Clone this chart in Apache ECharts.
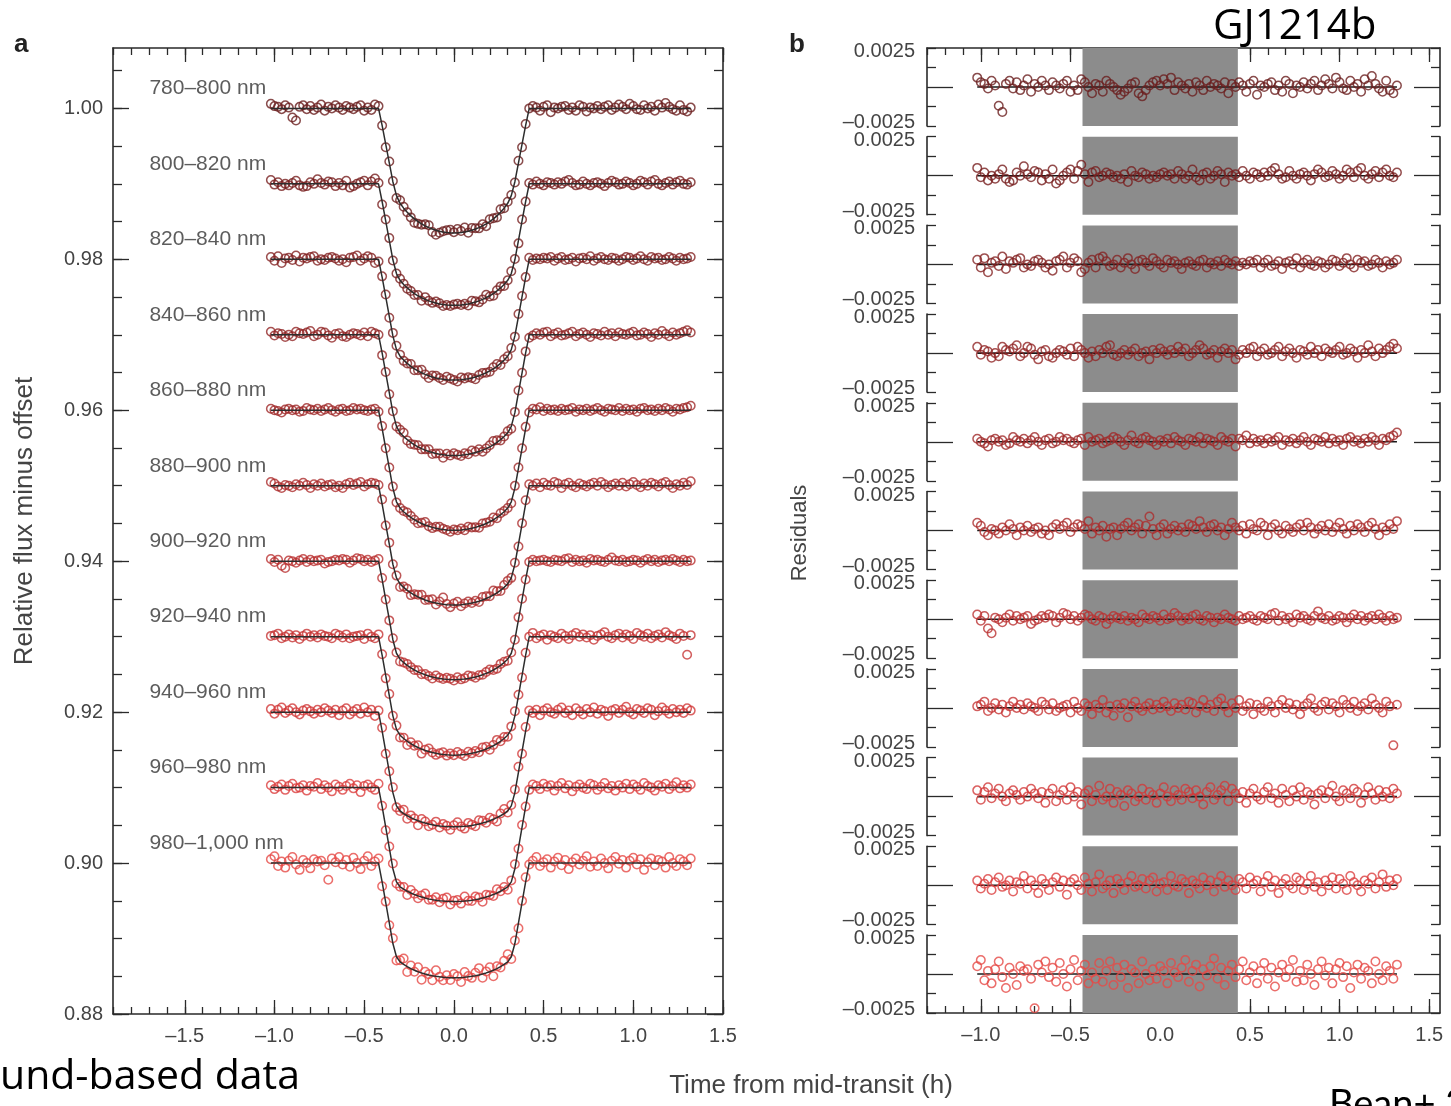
<!DOCTYPE html>
<html>
<head>
<meta charset="utf-8">
<title>GJ1214b ground-based light curves</title>
<script src="https://cdn.jsdelivr.net/npm/echarts@6/dist/echarts.min.js"></script>
<style>
  html, body { margin: 0; padding: 0; background: #fff; }
  #chart { width: 1451px; height: 1106px; }
</style>
</head>
<body>
<div id="chart"></div>
<script>
// spectroscopic channels, top to bottom
const bands = ['780–800 nm', '800–820 nm', '820–840 nm', '840–860 nm', '860–880 nm', '880–900 nm',
  '900–920 nm', '920–940 nm', '940–960 nm', '960–980 nm', '980–1,000 nm'];
const offsets = [1.00, 0.99, 0.98, 0.97, 0.96, 0.95, 0.94, 0.93, 0.92, 0.91, 0.90];
// depth at second contact and extra depth at mid-transit (limb darkening)
const edgeDepth = [0.0113, 0.0117, 0.0118, 0.0120, 0.0120, 0.0121, 0.0121, 0.0122, 0.0124, 0.0125, 0.0124];
const limbDepth = [0.0052, 0.0044, 0.0042, 0.0040, 0.0039, 0.0037, 0.0036, 0.0035, 0.0028, 0.0026, 0.0028];

// time from mid-transit (h)
const times = [
  -1.02, -1.00, -0.98, -0.96, -0.94, -0.92, -0.90, -0.88, -0.86, -0.84,
  -0.82, -0.80, -0.78, -0.76, -0.74, -0.72, -0.70, -0.68, -0.66, -0.64,
  -0.62, -0.60, -0.58, -0.56, -0.54, -0.52, -0.50, -0.48, -0.46, -0.44,
  -0.42, -0.40, -0.38, -0.36, -0.34, -0.32, -0.30, -0.28, -0.26, -0.24,
  -0.22, -0.20, -0.18, -0.16, -0.14, -0.12, -0.10, -0.08, -0.06, -0.04,
  -0.02, 0.00, 0.02, 0.04, 0.06, 0.08, 0.10, 0.12, 0.14, 0.16,
  0.18, 0.20, 0.22, 0.24, 0.26, 0.28, 0.30, 0.32, 0.34, 0.36,
  0.38, 0.40, 0.42, 0.44, 0.46, 0.48, 0.50, 0.52, 0.54, 0.56,
  0.58, 0.60, 0.62, 0.64, 0.66, 0.68, 0.70, 0.72, 0.74, 0.76,
  0.78, 0.80, 0.82, 0.84, 0.86, 0.88, 0.90, 0.92, 0.94, 0.96,
  0.98, 1.00, 1.02, 1.04, 1.06, 1.08, 1.10, 1.12, 1.14, 1.16,
  1.18, 1.20, 1.22, 1.24, 1.26, 1.28, 1.30, 1.32];
// transit shape: ingress/egress ramp and limb-darkened bottom
const boxShape = [
  0, 0, 0, 0, 0, 0, 0, 0, 0, 0,
  0, 0, 0, 0, 0, 0, 0, 0, 0, 0,
  0, 0, 0, 0, 0, 0, 0, 0, 0, 0,
  0, 0.20, 0.42, 0.64, 0.86, 0.98, 1, 1, 1, 1,
  1, 1, 1, 1, 1, 1, 1, 1, 1, 1,
  1, 1, 1, 1, 1, 1, 1, 1, 1, 1,
  1, 1, 1, 1, 1, 1, 1, 0.98, 0.86, 0.64,
  0.42, 0.20, 0, 0, 0, 0, 0, 0, 0, 0,
  0, 0, 0, 0, 0, 0, 0, 0, 0, 0,
  0, 0, 0, 0, 0, 0, 0, 0, 0, 0,
  0, 0, 0, 0, 0, 0, 0, 0, 0, 0,
  0, 0, 0, 0, 0, 0, 0, 0];
const limbShape = [
  0, 0, 0, 0, 0, 0, 0, 0, 0, 0,
  0, 0, 0, 0, 0, 0, 0, 0, 0, 0,
  0, 0, 0, 0, 0, 0, 0, 0, 0, 0,
  0, 0, 0, 0, 0, 0.095, 0.246, 0.370, 0.475, 0.566,
  0.644, 0.712, 0.770, 0.821, 0.865, 0.902, 0.932, 0.957, 0.976, 0.989,
  0.997, 1, 0.997, 0.989, 0.976, 0.957, 0.932, 0.902, 0.865, 0.821,
  0.770, 0.712, 0.644, 0.566, 0.475, 0.370, 0.246, 0.095, 0, 0,
  0, 0, 0, 0, 0, 0, 0, 0, 0, 0,
  0, 0, 0, 0, 0, 0, 0, 0, 0, 0,
  0, 0, 0, 0, 0, 0, 0, 0, 0, 0,
  0, 0, 0, 0, 0, 0, 0, 0, 0, 0,
  0, 0, 0, 0, 0, 0, 0, 0];

// residuals, units of 1e-4
const res780 = [6, 3, 2, -1, 4, 1, -12, -16, 2, 4, -1, 3, -2, 1, 5, -3, 2, 0, 4, 1,
  -2, 3, 1, -1, 2, 4, -3, 1, -2, 5, 3, 0, -4, 2, 1, -3, 4, 2, 0, -2,
  -5, -3, -1, 2, 3, -4, -6, -2, 1, 3, 4, 1, 5, 2, 6, -2, 3, 1, -1, 2,
  -3, 3, 1, -2, 4, 0, 2, 1, -1, 3, -4, 2, 0, 3, 1, -3, 2, 4, -5, 1,
  0, 2, 3, -2, 1, -3, 4, 2, -4, 1, 0, 3, -1, 2, 4, -2, 1, 5, 2, -1,
  6, 3, -1, -2, 4, 0, 2, -3, 5, 1, 7, 2, -1, -3, 4, -2, -4, 1];
const res800 = [5, -1, 2, -3, 0, -2, 1, 4, -2, -4, -3, 2, 0, 6, 1, -1, 3, 2, -3, 1,
  -2, 4, -5, -3, 0, 2, 4, -2, 3, 7, 1, -4, 2, 3, -1, 0, 2, 1, -1, 0,
  -2, 1, -4, 3, 0, -1, 2, 1, -2, 0, -1, 1, 2, 0, 1, -2, 3, 1, -2, 0,
  4, -1, -3, 1, 2, -2, 0, 3, 1, -4, 2, 0, 1, -1, 3, 0, -2, 2, 1, -1,
  2, 0, 3, 5, 1, -2, -1, 3, 0, -2, 1, 2, 0, -3, 1, 4, 2, -1, 0, 3,
  1, -2, 0, 4, 2, -1, 3, 5, 0, -2, 1, 3, -1, 2, 4, 0, -1, 2];
const res820 = [3, -2, 4, -5, 1, 2, -1, 5, -3, 2, 1, 3, 4, -2, 0, -1, 2, 3, 1, -2,
  0, -4, 2, 3, 5, -2, 1, 4, 2, -5, -3, 1, 3, -2, 4, 5, 2, -1, 0, 3,
  -2, 1, 4, 0, -3, 2, 3, 1, -1, 4, 2, 0, -2, 3, 1, 2, 0, -3, 1, 2,
  0, -1, 2, 3, -2, 1, 0, 2, -1, 3, 1, 0, 2, -1, 1, 0, 2, 1, 3, -2,
  1, 3, -1, 0, 2, -3, 1, 2, 0, 4, -2, 1, 3, 0, -1, 2, 1, -2, 0, 3,
  2, -1, 1, 4, 0, -2, 3, 1, 2, -1, 0, 3, 1, -2, 2, 0, 1, 3];
const res840 = [4, -1, 2, 1, -3, 0, -2, 4, 2, 1, 3, 5, -2, 0, 4, 3, -1, -4, 1, 2,
  -2, -3, 0, 2, 1, -1, 3, -2, 4, 2, 0, -3, 1, -2, 2, 0, 4, 5, -1, -2,
  0, 2, -1, 1, 3, -2, 0, 1, -4, 2, 0, 3, 1, -1, 2, 0, 4, 1, 3, -2,
  0, 2, 5, 3, -1, 0, 2, -3, 1, 3, 0, 2, -4, -1, 2, 0, 3, 4, -2, 1,
  3, -1, 0, 2, 4, -2, 1, 3, 0, -3, 2, 1, -1, 4, 0, 2, -2, 3, 1, 0,
  2, 4, -1, 0, 3, 1, -3, 2, 0, 5, 1, -2, 3, 0, 2, 4, 6, 3];
const res860 = [2, 0, -1, -3, 1, 2, 0, 1, -2, -1, 3, 1, 0, 2, -1, 1, 3, 0, -2, 1,
  2, -1, 0, 3, 1, 2, 0, -1, 1, 2, -2, 3, 0, 1, 2, -1, 0, 1, 3, 2,
  0, -2, 1, 4, 0, -1, 2, 3, 1, 0, -2, 1, 0, 2, -1, 3, 1, 0, -2, 2,
  1, 0, 3, -1, 2, 1, 0, -2, 3, 1, 0, 2, -3, 2, 1, 4, -1, 2, 0, 1,
  -1, 2, 0, 1, 3, -2, 1, 0, 2, -1, 1, 3, 0, -2, 2, 1, 0, 3, -1, 2,
  0, 1, -2, 2, 3, 0, 1, -1, 2, 0, 3, 1, -2, 2, 1, 3, 4, 6];
const res880 = [5, 3, -1, -3, 1, 0, -2, 2, 0, 4, 1, -3, 2, 0, 3, -1, 1, 2, -2, 0,
  -3, 2, 4, 1, 3, 5, -1, 2, 4, 3, 1, 6, -2, 2, 0, 3, -4, 1, 2, -3,
  1, 3, 5, 0, 2, 4, -2, 3, 9, 1, -3, 2, 4, -2, 1, 3, 0, 2, -1, 4,
  3, 1, 6, 2, -1, 3, 4, 0, 2, -3, 1, 5, 2, 0, 3, -2, 4, 1, 0, 5,
  3, -3, 2, 4, 0, -2, 3, 1, -1, 2, 4, 0, 5, 2, -2, 1, 3, 0, 4, -1,
  2, 5, 1, -2, 3, 0, 4, 2, -1, 3, 5, 1, -3, 2, 0, 4, 1, 6];
const res900 = [3, -1, 2, -6, -9, 1, 0, -2, 1, 3, -1, 2, 0, 1, 2, -3, -1, 0, 2, 1,
  3, 2, -2, 1, 4, 3, 0, 2, -1, 1, 3, 2, 0, -1, 2, 1, -3, 0, 2, 1,
  0, 2, -1, 1, 0, -2, 3, 1, 0, 2, 1, -1, 3, 0, 1, 4, 2, -1, 1, 0,
  2, 3, 0, -1, 2, 1, -2, 1, 0, 3, 1, 0, -1, 2, 0, 1, 2, 0, -1, 2,
  1, 0, 3, 4, -1, 2, 0, 1, -2, 3, 1, 2, 0, -1, 2, 5, 1, 0, 2, -1,
  0, 2, 1, -2, 1, 3, 0, 2, -1, 1, 2, 0, 3, 1, -1, 2, 0, 1];
const res920 = [1, 2, 4, -2, 0, 3, -1, 2, -3, 1, 4, 0, 2, -1, 3, 1, 0, -2, 4, 2,
  -1, 3, -2, 0, 1, 2, -3, 4, 0, -2, 3, 1, -4, 2, 0, 5, -3, 1, -5, 2,
  0, 3, -6, 1, 4, 0, -2, 1, 3, -1, 2, 0, 4, 1, -2, 3, 0, 2, -1, 4,
  3, -3, 1, 5, 0, 2, -2, 4, 6, 1, -3, 3, 0, 5, -2, 1, 3, -4, 2, 0,
  -2, 4, 1, -3, 2, 5, 0, 3, -1, 2, -4, 1, 3, 6, 0, -2, 2, 4, -1, 3,
  1, -3, 5, 2, 0, 4, -2, 1, 3, -1, 6, 2, 0, -3, 4, 1, -24, 2];
const res940 = [4, -2, 3, 6, -1, 2, 5, 0, -3, 2, 4, 1, -2, 3, 0, 5, 2, -1, 3, -4,
  2, 5, -3, 1, 4, -2, 6, 0, 3, -5, 2, 4, -3, 1, 7, -2, 0, 5, -4, 3,
  1, -6, 4, 2, -3, 0, 5, -2, 3, 1, -4, 2, 6, 0, -3, 4, 1, -2, 5, 3,
  -1, 4, 0, -5, 3, 6, -2, 1, 4, 7, -3, 5, 2, -1, 3, -4, 2, 5, 0, -2,
  3, 6, -1, 2, -4, 5, 1, -3, 4, 0, 6, -2, 3, 1, -5, 2, 4, -1, 3, 7,
  0, -3, 4, 2, -1, 5, 3, -4, 1, 6, 2, -2, 4, 0, 3, -1, 5, 2];
const res960 = [3, -2, 1, 4, -3, 2, 5, -1, 0, 3, -4, 2, 1, 6, -2, 3, 0, -5, 4, 1,
  -3, 2, 5, -1, 3, -6, 2, 4, 0, -3, 5, 1, -4, 2, 7, -2, 0, 3, -5, 4,
  1, -3, 2, 6, -1, 0, 4, -2, 3, 5, -4, 1, 2, -3, 6, 0, -1, 4, 2, -5,
  3, 1, -2, 5, 0, 3, -4, 2, 6, -1, 3, 0, -3, 4, 2, -2, 5, 1, 3, -4,
  2, 6, -1, 3, -5, 1, 4, 0, -2, 5, 3, -3, 1, 6, -1, 2, -4, 3, 0, 5,
  -2, 4, 1, -3, 6, 2, 0, -4, 3, 1, 5, -2, 2, 7, -1, 3, 0, 4];
const res980 = [5, 9, -4, 2, -6, 3, 8, -2, -9, 4, 0, -7, 5, 2, 3, -3, -22, 6, 1, 8,
  -2, 4, -5, 7, 0, -8, 3, 9, -4, 2, 6, -6, 1, -3, 7, -5, 2, 8, -7, 4,
  -2, 6, -9, 3, 1, -6, 8, 0, -4, 3, -3, 5, 2, -6, 7, 1, -2, 4, 9, -5,
  2, 6, -8, 3, -1, 5, 10, -3, 4, -7, 2, 6, -2, 3, 8, -4, 1, 5, -6, 2,
  7, -3, 4, -8, 1, 6, -2, 3, 9, -5, 2, -4, 6, 0, -7, 3, 8, -1, 4, -6,
  3, 7, -2, 5, -9, 1, 6, -3, 4, 2, -6, 8, 0, -4, 5, 2, -3, 6];
const residuals = [res780, res800, res820, res840, res860, res880, res900, res920, res940, res960, res980];

// shaded in-transit window in panel b
const shadeRange = [-0.433, 0.433];

// tick labels
const fluxMajors = [0.88, 0.90, 0.92, 0.94, 0.96, 0.98, 1.00];
const leftTimeMajors = [-1.5, -1.0, -0.5, 0.0, 0.5, 1.0, 1.5];
const rightTimeMajors = [-1.0, -0.5, 0.0, 0.5, 1.0, 1.5];
const residLabels = [-0.0025, 0.0025];
const residMajors = [0];
const residMinors = [-0.0025, -0.00125, 0.00125, 0.0025];

const colors = ['#6b1f1f', '#781f1f', '#852424', '#922727', '#a02a2a', '#ad2e2e',
  '#ba3232', '#c73636', '#d23a3a', '#dc4040', '#e64a46'];

const FONT = '"Liberation Sans", Arial, sans-serif';
const NOTE_FONT = '"Open Sans", sans-serif';
const AXIS_COLOR = '#2a2a2a';
const LABEL_COLOR = '#444';

const leftTimeMinors = [];
for (let v = -19; v <= 15; v++) leftTimeMinors.push(v / 10);
const rightTimeMinors = [];
for (let v = -13; v <= 15; v++) rightTimeMinors.push(v / 10);
const fluxMinors = [];
for (let v = 176; v <= 201; v++) fluxMinors.push(+(v * 0.005).toFixed(3));

function fmtTime(v) {
  return (v < 0 ? '\u2013' : '') + Math.abs(v).toFixed(1);
}
function fmtResid(v) {
  return (v < 0 ? '\u2013' : '') + Math.abs(v).toFixed(4);
}

function axis(gridIndex, position, min, max, ticks, tickLen, showLine, label) {
  return {
    type: 'value',
    gridIndex: gridIndex,
    position: position,
    min: min,
    max: max,
    axisLine: { show: showLine, onZero: false, lineStyle: { color: AXIS_COLOR, width: 1.6 } },
    axisTick: {
      show: ticks.length > 0,
      inside: true,
      length: tickLen,
      customValues: ticks,
      lineStyle: { color: AXIS_COLOR, width: 1.3 }
    },
    axisLabel: label
      ? Object.assign({ fontSize: 20, color: LABEL_COLOR, fontFamily: FONT }, label)
      : { show: false },
    splitLine: { show: false },
    axisPointer: { show: false }
  };
}

const grids = [{ left: 113, top: 48, width: 610, height: 966, containLabel: false, outerBoundsMode: 'none' }];
const xAxes = [
  axis(0, 'bottom', -1.9, 1.5, leftTimeMajors, 14, true,
    { customValues: leftTimeMajors, formatter: fmtTime, margin: 12 }),
  axis(0, 'bottom', -1.9, 1.5, leftTimeMinors, 7, false),
  axis(0, 'top', -1.9, 1.5, leftTimeMajors, 14, true),
  axis(0, 'top', -1.9, 1.5, leftTimeMinors, 7, false)
];
const yAxes = [
  axis(0, 'left', 0.88, 1.008, fluxMajors, 16, true,
    { customValues: fluxMajors, formatter: function (v) { return v.toFixed(2); }, margin: 10 }),
  axis(0, 'left', 0.88, 1.008, fluxMinors, 9, false),
  axis(0, 'right', 0.88, 1.008, fluxMajors, 16, true),
  axis(0, 'right', 0.88, 1.008, fluxMinors, 9, false)
];

const series = [];
const pointStyle = function (k) {
  return { color: 'rgba(0,0,0,0)', borderColor: colors[k], borderWidth: 1.5 };
};

// panel a: light curves with transit model
bands.forEach(function (band, k) {
  const res = residuals[k];
  const model = times.map(function (t, i) {
    return [t, offsets[k] - edgeDepth[k] * boxShape[i] - limbDepth[k] * limbShape[i]];
  });
  series.push({
    type: 'scatter',
    xAxisIndex: 0,
    yAxisIndex: 0,
    data: model.map(function (p, i) { return [p[0], p[1] + res[i] * 1e-4]; }),
    symbol: 'circle',
    symbolSize: 8.5,
    itemStyle: pointStyle(k),
    silent: true,
    z: 3
  });
  series.push({
    type: 'line',
    xAxisIndex: 0,
    yAxisIndex: 0,
    data: model,
    symbol: 'none',
    lineStyle: { color: '#2d2d2d', width: 1.5 },
    silent: true,
    z: 4
  });
});

// channel names
series.push({
  type: 'scatter',
  xAxisIndex: 0,
  yAxisIndex: 0,
  data: bands.map(function (b, k) { return { name: b, value: [-1.7, offsets[k]] }; }),
  symbolSize: 1,
  itemStyle: { color: 'rgba(0,0,0,0)' },
  label: {
    show: true,
    position: 'right',
    distance: 0,
    offset: [0, -20],
    formatter: '{b}',
    fontSize: 21,
    color: '#333',
    fontFamily: FONT
  },
  silent: true,
  z: 5
});

// panel b: residuals
bands.forEach(function (band, k) {
  const g = grids.length;
  const first = k === 0;
  const last = k === bands.length - 1;
  grids.push({ left: 927, top: 48 + k * 88.7, width: 513, height: 78, containLabel: false, outerBoundsMode: 'none' });

  const xi = xAxes.length;
  xAxes.push(axis(g, 'bottom', -1.3, 1.56, last ? rightTimeMajors : [], 14, last,
    last ? { customValues: rightTimeMajors, formatter: fmtTime, margin: 12 } : null));
  if (last) xAxes.push(axis(g, 'bottom', -1.3, 1.56, rightTimeMinors, 7, false));
  if (first) {
    xAxes.push(axis(g, 'top', -1.3, 1.56, rightTimeMajors, 14, true));
    xAxes.push(axis(g, 'top', -1.3, 1.56, rightTimeMinors, 7, false));
  }

  const yi = yAxes.length;
  yAxes.push(axis(g, 'left', -0.0025, 0.0025, residMajors, 26, true, {
    customValues: residLabels,
    margin: 12,
    formatter: function (v) { return (v > 0 ? '{hi|' : '{lo|') + fmtResid(v) + '}'; },
    rich: {
      hi: { padding: [7, 0, 0, 0], fontSize: 20, color: LABEL_COLOR, fontFamily: FONT },
      lo: { padding: [0, 0, 7, 0], fontSize: 20, color: LABEL_COLOR, fontFamily: FONT }
    }
  }));
  yAxes.push(axis(g, 'left', -0.0025, 0.0025, residMinors, 9, false));
  yAxes.push(axis(g, 'right', -0.0025, 0.0025, residMajors, 26, true));
  yAxes.push(axis(g, 'right', -0.0025, 0.0025, residMinors, 9, false));

  const res = residuals[k];
  series.push({
    type: 'line',
    xAxisIndex: xi,
    yAxisIndex: yi,
    data: [[times[0], 0]],
    symbol: 'none',
    lineStyle: { width: 0, opacity: 0 },
    silent: true,
    z: 1,
    markArea: {
      silent: true,
      itemStyle: { color: '#8c8c8c' },
      data: [[{ xAxis: shadeRange[0] }, { xAxis: shadeRange[1] }]]
    }
  });
  series.push({
    type: 'line',
    xAxisIndex: xi,
    yAxisIndex: yi,
    data: [[times[0], 0], [times[times.length - 1], 0]],
    symbol: 'none',
    lineStyle: { color: '#1a1a1a', width: 1.6 },
    silent: true,
    z: 2
  });
  series.push({
    type: 'scatter',
    xAxisIndex: xi,
    yAxisIndex: yi,
    data: times.map(function (t, i) { return [t, res[i] * 1e-4]; }),
    symbol: 'circle',
    symbolSize: 8.5,
    itemStyle: pointStyle(k),
    silent: true,
    z: 3
  });
});

const chart = echarts.init(document.getElementById('chart'));
chart.setOption({
  animation: false,
  backgroundColor: '#fff',
  grid: grids,
  xAxis: xAxes,
  yAxis: yAxes,
  series: series,
  graphic: [
    { type: 'text', x: 14, y: 45, style: { text: 'a', fontSize: 26, fontWeight: 'bold', fontFamily: FONT, fill: '#222', verticalAlign: 'middle' } },
    { type: 'text', x: 789, y: 45, style: { text: 'b', fontSize: 26, fontWeight: 'bold', fontFamily: FONT, fill: '#222', verticalAlign: 'middle' } },
    { type: 'text', x: 25, y: 521, rotation: Math.PI / 2, style: { text: 'Relative flux minus offset', fontSize: 26, fontFamily: FONT, fill: LABEL_COLOR, align: 'center', verticalAlign: 'middle' } },
    { type: 'text', x: 800, y: 533, rotation: Math.PI / 2, style: { text: 'Residuals', fontSize: 22, fontFamily: FONT, fill: LABEL_COLOR, align: 'center', verticalAlign: 'middle' } },
    { type: 'text', x: 811, y: 1086, style: { text: 'Time from mid-transit (h)', fontSize: 26, fontFamily: FONT, fill: LABEL_COLOR, align: 'center', verticalAlign: 'middle' } },
    { type: 'text', x: 1213, y: 27, style: { text: 'GJ1214b', fontSize: 42, fontFamily: NOTE_FONT, fill: '#000', verticalAlign: 'middle' } },
    { type: 'text', x: 0, y: 1077, style: { text: 'und-based data', fontSize: 41, fontFamily: NOTE_FONT, fill: '#000', verticalAlign: 'middle' } },
    { type: 'text', x: 1329, y: 1086, style: { text: 'Bean+ 2010', fontSize: 38, fontFamily: 'Lato, sans-serif', fill: '#000', verticalAlign: 'top' } }
  ]
});
</script>
</body>
</html>
